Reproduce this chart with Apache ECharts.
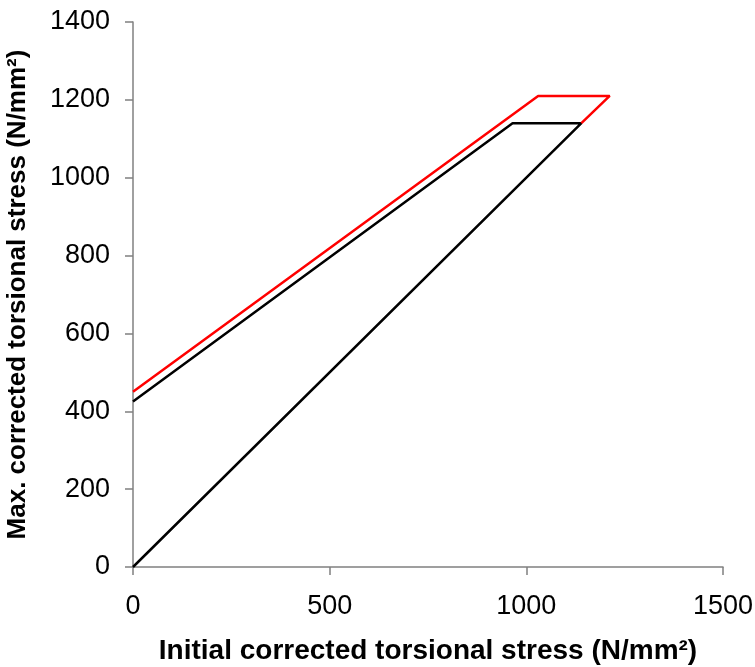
<!DOCTYPE html>
<html><head><meta charset="utf-8">
<script src="https://cdn.jsdelivr.net/npm/echarts@6/dist/echarts.min.js"></script>
<style>html,body{margin:0;padding:0;background:#fff}#c{width:755px;height:667px}</style>
</head><body><div id="c"></div>
<script>
const blackX = [0, 1140, 965, 0];
const blackY = [0, 1140, 1140, 425];
const redX = [0, 1030, 1212, 1140];
const redY = [450, 1210, 1210, 1140];
const xTicks = [0, 500, 1000, 1500];
const yTicks = [0, 200, 400, 600, 800, 1000, 1200, 1400];

const chart = echarts.init(document.getElementById('c'));
const font = 'Liberation Sans, Arial, sans-serif';
chart.setOption({
  animation: false,
  grid: {left: 133, right: 32, top: 22, bottom: 100, outerBoundsMode: 'none', containLabel: false},
  xAxis: {
    type: 'value', min: xTicks[0], max: xTicks[xTicks.length - 1], interval: xTicks[1] - xTicks[0],
    name: 'Initial corrected torsional stress (N/mm²)',
    nameLocation: 'middle', nameGap: 70,
    nameTextStyle: {fontFamily: font, fontSize: 28, fontWeight: 'bold', color: '#000'},
    axisLine: {show: true, lineStyle: {color: '#808080', width: 1.5}},
    axisTick: {show: true, length: 8, lineStyle: {color: '#808080', width: 1.5}},
    axisLabel: {fontFamily: font, fontSize: 27, color: '#000', margin: 26, formatter: v => String(v)},
    splitLine: {show: false}
  },
  yAxis: {
    type: 'value', min: yTicks[0], max: yTicks[yTicks.length - 1], interval: yTicks[1] - yTicks[0],
    name: 'Max. corrected torsional stress (N/mm²)',
    nameLocation: 'middle', nameGap: 102, nameRotate: 90,
    nameTextStyle: {fontFamily: font, fontSize: 26, fontWeight: 'bold', color: '#000'},
    axisLine: {show: true, lineStyle: {color: '#808080', width: 1.5}},
    axisTick: {show: true, length: 8, lineStyle: {color: '#808080', width: 1.5}},
    axisLabel: {fontFamily: font, fontSize: 27, color: '#000', margin: 23, formatter: v => String(v)},
    splitLine: {show: false}
  },
  series: [
    {type: 'line', data: blackX.map((x, i) => [x, blackY[i]]), showSymbol: false,
     lineStyle: {color: '#000', width: 2.5}, itemStyle: {color: '#000'}, z: 2},
    {type: 'line', data: redX.map((x, i) => [x, redY[i]]), showSymbol: false,
     lineStyle: {color: '#ff0000', width: 2.5}, itemStyle: {color: '#ff0000'}, z: 3}
  ]
});
</script></body></html>
